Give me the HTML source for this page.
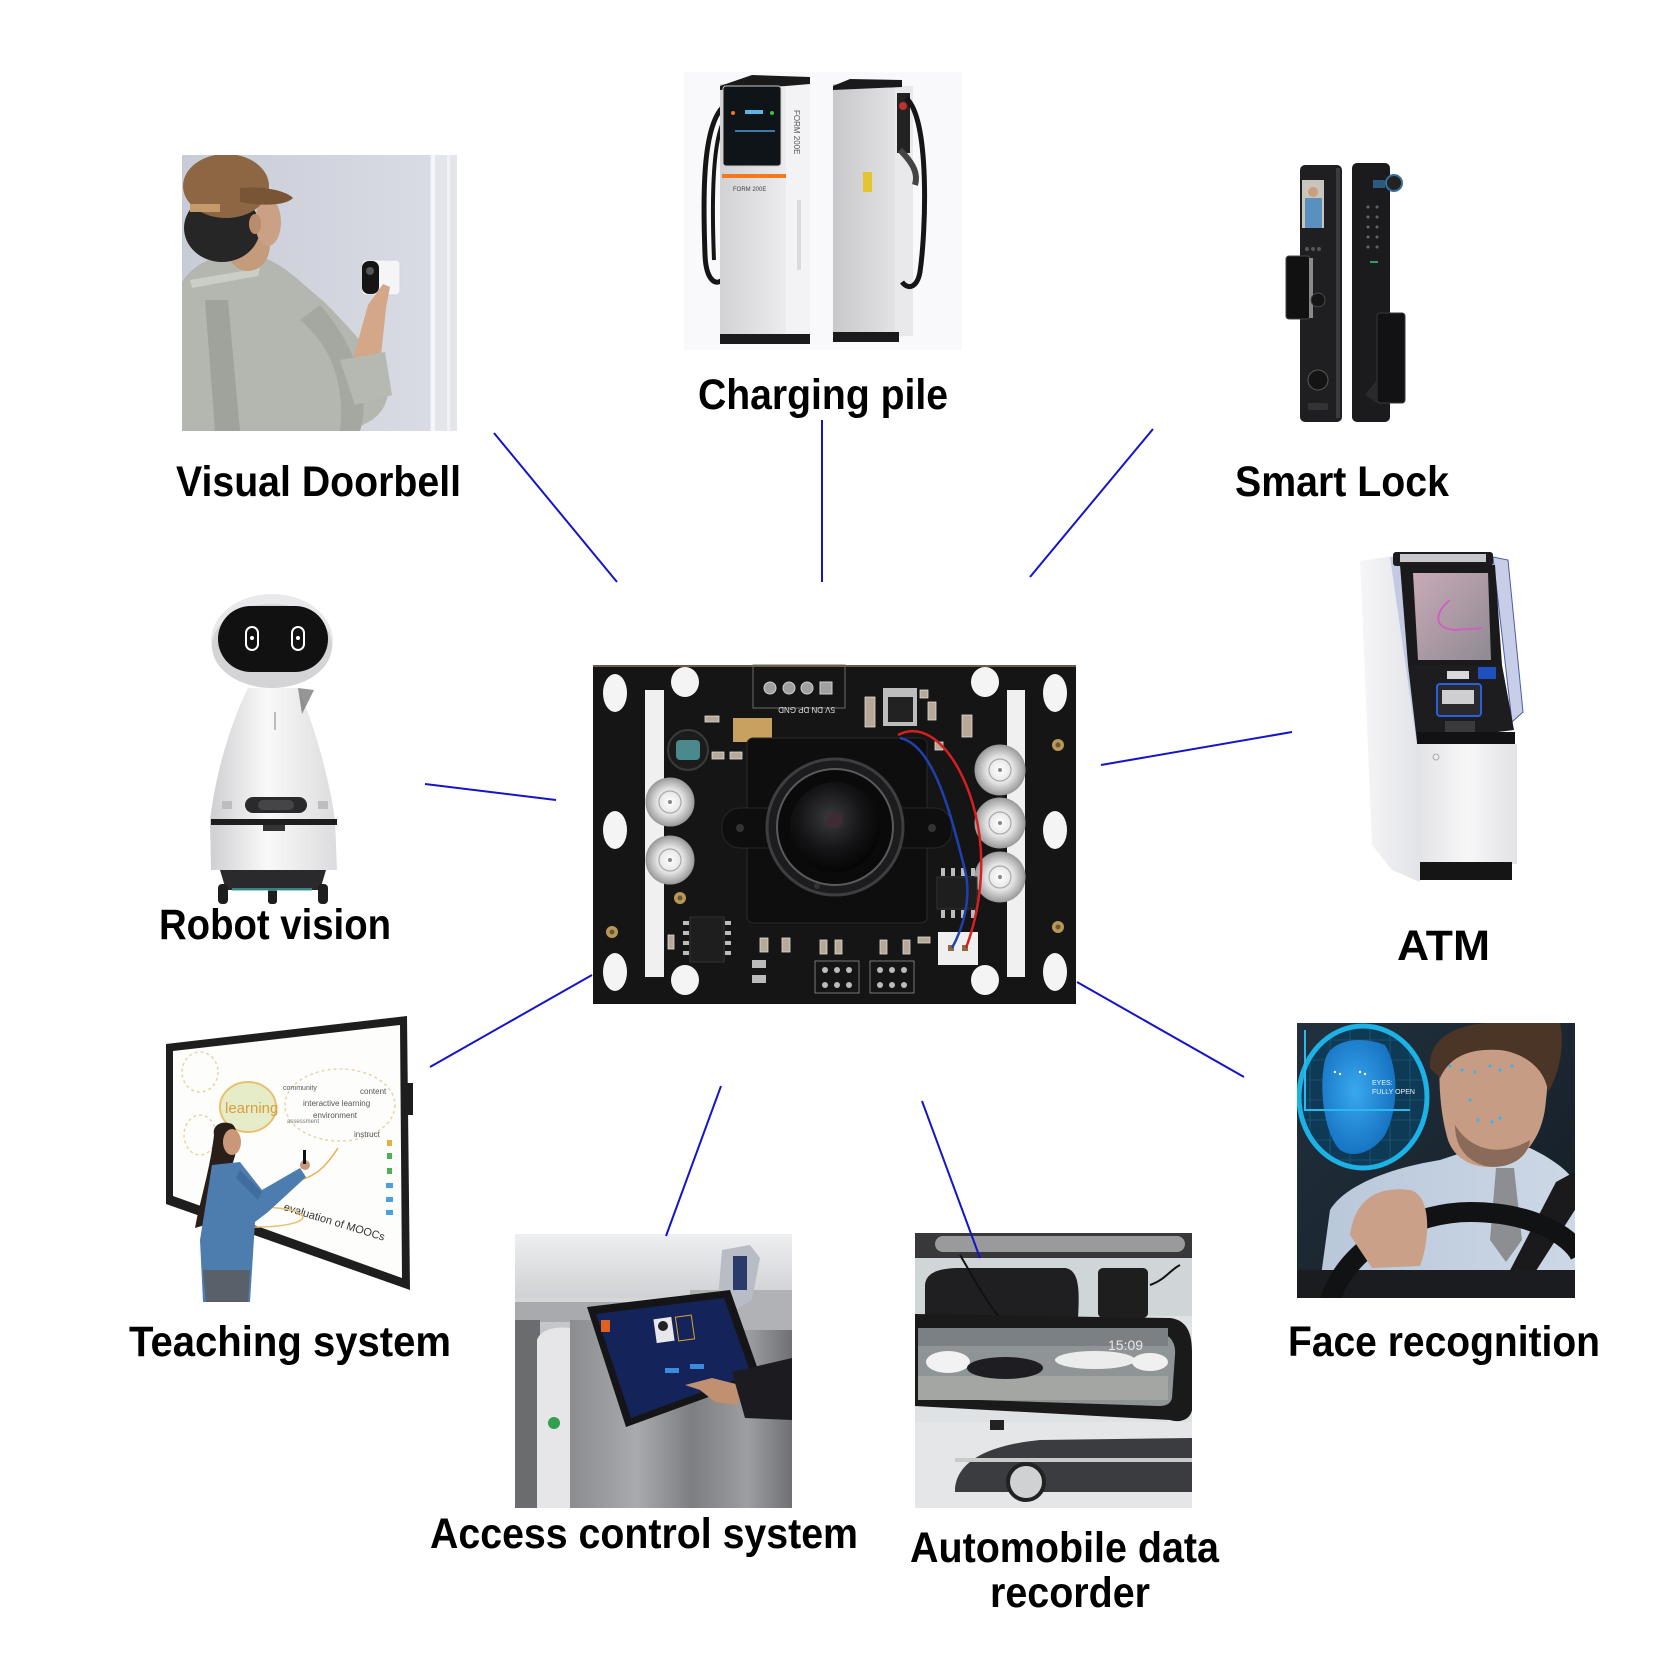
<!DOCTYPE html>
<html><head><meta charset="utf-8">
<style>
html,body{margin:0;padding:0;background:#fff;width:1668px;height:1668px;overflow:hidden}
svg{display:block}
.lbl{font-family:"Liberation Sans",Arial,sans-serif;font-weight:bold;font-size:43px;fill:#000}
.tiny{font-family:"Liberation Sans",Arial,sans-serif}
</style></head><body>
<svg width="1668" height="1668" viewBox="0 0 1668 1668" xmlns="http://www.w3.org/2000/svg">
<defs>
<linearGradient id="wall" x1="0" x2="1" y1="0" y2="0"><stop offset="0" stop-color="#c8ccd6"/><stop offset="1" stop-color="#dadde5"/></linearGradient>
<linearGradient id="pileF" x1="0" x2="1"><stop offset="0" stop-color="#d2d2d4"/><stop offset="1" stop-color="#ececee"/></linearGradient>
<linearGradient id="pileR" x1="0" x2="1"><stop offset="0" stop-color="#c8c8cb"/><stop offset="1" stop-color="#e2e2e4"/></linearGradient>
<linearGradient id="robotBody" x1="0" x2="1"><stop offset="0" stop-color="#cfcfd2"/><stop offset="0.45" stop-color="#f9f9f9"/><stop offset="1" stop-color="#dcdcde"/></linearGradient>
<linearGradient id="atmCab" x1="0" x2="1"><stop offset="0" stop-color="#e4e4e7"/><stop offset="0.5" stop-color="#f7f7f8"/><stop offset="1" stop-color="#e2e2e5"/></linearGradient>
<linearGradient id="atmSide" x1="0" x2="1"><stop offset="0" stop-color="#f6f6f8"/><stop offset="1" stop-color="#e2e3e8"/></linearGradient>
<linearGradient id="atmScr" x1="0" x2="1" y1="0" y2="1"><stop offset="0" stop-color="#c9aab8"/><stop offset="1" stop-color="#8f8a92"/></linearGradient>
<linearGradient id="accBg" x1="0" x2="0" y1="0" y2="1"><stop offset="0" stop-color="#eeeff1"/><stop offset="0.28" stop-color="#c9cbce"/><stop offset="1" stop-color="#86888c"/></linearGradient>
<linearGradient id="steel" x1="0" x2="1"><stop offset="0" stop-color="#8a8c90"/><stop offset="0.3" stop-color="#a8aaae"/><stop offset="0.55" stop-color="#7c7e82"/><stop offset="0.8" stop-color="#9c9ea2"/><stop offset="1" stop-color="#6e7074"/></linearGradient>
<linearGradient id="faceBg" x1="0" x2="1" y1="0" y2="1"><stop offset="0" stop-color="#22313e"/><stop offset="1" stop-color="#141c24"/></linearGradient>
<linearGradient id="shirtB" x1="0" x2="1"><stop offset="0" stop-color="#b9c7da"/><stop offset="1" stop-color="#cdd8e6"/></linearGradient>
<radialGradient id="led" cx="0.5" cy="0.5" r="0.5"><stop offset="0" stop-color="#ffffff"/><stop offset="0.55" stop-color="#e2e2e2"/><stop offset="1" stop-color="#9c9c9c"/></radialGradient>
<radialGradient id="lens" cx="0.45" cy="0.4" r="0.6"><stop offset="0" stop-color="#3a3a3e"/><stop offset="0.6" stop-color="#141416"/><stop offset="1" stop-color="#050505"/></radialGradient>
<radialGradient id="bface" cx="0.45" cy="0.45" r="0.6"><stop offset="0" stop-color="#39a8ee"/><stop offset="1" stop-color="#146fc0"/></radialGradient>
<clipPath id="cDoor"><rect x="182" y="155" width="275" height="276"/></clipPath>
<clipPath id="cAcc"><rect x="515" y="1234" width="277" height="274"/></clipPath>
<clipPath id="cAuto"><rect x="915" y="1233" width="277" height="275"/></clipPath>
<clipPath id="cFace"><rect x="1297" y="1023" width="278" height="275"/></clipPath>
<clipPath id="cCircle"><ellipse cx="1363" cy="1097" rx="63" ry="70"/></clipPath>
</defs>
<rect width="1668" height="1668" fill="#fff"/>

<!-- ============ VISUAL DOORBELL ============ -->
<g clip-path="url(#cDoor)">
<rect x="182" y="155" width="275" height="276" fill="url(#wall)"/>
<rect x="430" y="155" width="27" height="276" fill="#e3e5eb"/>
<rect x="431" y="155" width="4" height="276" fill="#f5f6f9"/>
<rect x="447" y="155" width="3" height="276" fill="#f1f2f6"/>
<path d="M182,282 C195,262 215,254 250,254 C278,258 298,280 322,300 C345,322 364,345 378,362 C392,384 392,405 372,420 L352,431 L182,431 Z" fill="#b4b7af"/>
<path d="M205,300 L215,431 L240,431 L228,300 Z" fill="#a0a39b"/>
<path d="M300,320 C330,345 345,380 340,431 L360,431 C370,400 360,350 320,305 Z" fill="#a5a8a0"/>
<path d="M190,280 L260,268 L258,276 L192,288 Z" fill="#cbcec7"/>
<ellipse cx="248" cy="245" rx="22" ry="26" fill="#c49b7b"/>
<ellipse cx="222" cy="228" rx="38" ry="34" fill="#262626"/>
<ellipse cx="268" cy="222" rx="13" ry="24" fill="#caa184"/>
<ellipse cx="255" cy="224" rx="6" ry="10" fill="#b88c6c"/>
<ellipse cx="226" cy="186" rx="43" ry="32" fill="#8d6743"/>
<path d="M240,188 C262,186 285,190 293,198 C285,206 262,206 240,202 Z" fill="#7a5535"/>
<rect x="190" y="204" width="30" height="8" fill="#c49a6a"/>
<rect x="362" y="260" width="38" height="35" rx="4" fill="#f5f5f7" stroke="#d4d4d8"/>
<rect x="362" y="261" width="17" height="33" rx="7" fill="#151515"/>
<circle cx="370" cy="271" r="4" fill="#555"/>
<path d="M350,370 L368,305 L383,284 L390,287 L386,308 L380,365 Z" fill="#d3a787"/>
<path d="M340,360 L385,352 L392,395 L355,405 Z" fill="#b6b9b1"/>
</g>

<!-- ============ CHARGING PILE ============ -->
<rect x="684" y="72" width="278" height="278" fill="#f9f9fb"/>
<path d="M722,108 C702,130 703,200 705,255 C706,280 716,288 724,278" stroke="#151515" stroke-width="5" fill="none"/>
<path d="M722,125 C712,150 712,210 714,260" stroke="#151515" stroke-width="4" fill="none"/>
<rect x="720" y="84" width="66" height="254" fill="url(#pileF)"/>
<rect x="786" y="80" width="24" height="258" fill="#f3f3f5"/>
<polygon points="720,86 752,75 810,77 810,84 786,86 720,90" fill="#1a1a1a"/>
<rect x="723" y="86" width="58" height="80" rx="3" fill="#0f1418" stroke="#c8c8c8"/>
<circle cx="733" cy="113" r="2" fill="#f07820"/><circle cx="772" cy="113" r="2" fill="#40c040"/>
<rect x="745" y="110" width="18" height="4" fill="#5ab8e8"/>
<rect x="735" y="130" width="40" height="2" fill="#3a7aa8"/>
<rect x="722" y="174" width="64" height="4" fill="#f07820"/>
<text x="733" y="191" class="tiny" font-size="6" fill="#444">FORM 200E</text>
<text x="0" y="0" class="tiny" font-size="8" fill="#555" transform="translate(794,110) rotate(90)">FORM 200E</text>
<rect x="797" y="200" width="4" height="70" fill="#dadadc"/>
<rect x="720" y="334" width="90" height="10" fill="#1a1a1a"/>
<rect x="833" y="84" width="62" height="252" fill="url(#pileR)"/>
<rect x="895" y="86" width="18" height="250" fill="#e9e9eb"/>
<polygon points="833,86 850,79 902,80 902,87 833,90" fill="#1a1a1a"/>
<rect x="833" y="332" width="66" height="10" fill="#1a1a1a"/>
<rect x="897" y="93" width="13" height="60" fill="#222"/>
<circle cx="903" cy="106" r="4" fill="#c03030"/>
<rect x="863" y="172" width="9" height="20" fill="#e4c430"/>
<path d="M906,98 C930,118 926,230 920,272 C917,288 908,290 902,282" stroke="#151515" stroke-width="5" fill="none"/>
<path d="M900,150 C915,165 918,175 915,185" stroke="#444" stroke-width="6" fill="none"/>

<!-- ============ SMART LOCK ============ -->
<rect x="1300" y="165" width="42" height="257" rx="5" fill="#1f1f21"/>
<rect x="1336" y="168" width="4" height="250" fill="#3b3b3e"/>
<rect x="1302" y="180" width="22" height="48" fill="#c9c4bc"/>
<rect x="1305" y="198" width="17" height="30" fill="#5a90c0"/>
<circle cx="1313" cy="192" r="5" fill="#c8a080"/>
<circle cx="1307" cy="249" r="2" fill="#555"/><circle cx="1313" cy="249" r="2" fill="#555"/><circle cx="1319" cy="249" r="2" fill="#555"/>
<rect x="1286" y="256" width="24" height="63" rx="3" fill="#111" stroke="#444"/>
<rect x="1309" y="258" width="4" height="60" fill="#8a8a8c"/>
<circle cx="1318" cy="300" r="7" fill="#151515" stroke="#4a4a4c"/>
<circle cx="1318" cy="380" r="10" fill="#141414" stroke="#5a5a5c"/>
<rect x="1308" y="403" width="20" height="7" rx="2" fill="#333"/>
<rect x="1352" y="163" width="38" height="259" rx="5" fill="#1b1b1d"/>
<circle cx="1394" cy="183" r="8" fill="#222" stroke="#3a6e98" stroke-width="2"/>
<rect x="1373" y="180" width="12" height="8" fill="#2a5a80"/>
<g fill="#666"><circle cx="1368" cy="207" r="1.5"/><circle cx="1377" cy="207" r="1.5"/><circle cx="1368" cy="217" r="1.5"/><circle cx="1377" cy="217" r="1.5"/><circle cx="1368" cy="227" r="1.5"/><circle cx="1377" cy="227" r="1.5"/><circle cx="1368" cy="237" r="1.5"/><circle cx="1377" cy="237" r="1.5"/><circle cx="1368" cy="247" r="1.5"/><circle cx="1377" cy="247" r="1.5"/></g>
<rect x="1370" y="261" width="8" height="2" fill="#30a060"/>
<rect x="1377" y="313" width="28" height="90" rx="3" fill="#121214" stroke="#3a3a3c"/>
<path d="M1365,395 L1377,403 L1377,380 Z" fill="#2a2a2c"/>

<!-- ============ ROBOT ============ -->
<path d="M248,688 L298,688 C312,720 328,770 335,820 L337,870 L211,870 L210,820 C216,770 232,720 248,688 Z" fill="url(#robotBody)"/>
<polygon points="298,688 314,690 302,714" fill="#6a6a6c" opacity="0.7"/>
<rect x="274" y="712" width="2" height="18" fill="#bbb"/>
<ellipse cx="272" cy="641" rx="61" ry="47" fill="#e9e9eb"/>
<ellipse cx="272" cy="646" rx="60" ry="42" fill="#d4d4d6"/>
<rect x="218" y="606" width="110" height="66" rx="33" fill="#111"/>
<rect x="246" y="627" width="12" height="23" rx="6" fill="none" stroke="#fff" stroke-width="2"/>
<circle cx="252" cy="638" r="2" fill="#fff"/>
<rect x="292" y="627" width="12" height="23" rx="6" fill="none" stroke="#fff" stroke-width="2"/>
<circle cx="298" cy="638" r="2" fill="#fff"/>
<rect x="245" y="797" width="62" height="16" rx="8" fill="#2a2a2c"/>
<rect x="258" y="800" width="36" height="10" rx="5" fill="#454547"/>
<rect x="222" y="801" width="10" height="8" fill="#bdbdbf"/>
<rect x="318" y="801" width="10" height="8" fill="#bdbdbf"/>
<rect x="211" y="819" width="126" height="6" fill="#1e1e1e"/>
<rect x="263" y="825" width="22" height="6" fill="#333"/>
<path d="M220,870 L326,870 L320,890 L226,890 Z" fill="#2a2a2c"/>
<rect x="218" y="884" width="10" height="20" rx="4" fill="#1e1e1e"/>
<rect x="268" y="888" width="9" height="16" rx="3" fill="#1e1e1e"/>
<rect x="318" y="884" width="10" height="20" rx="4" fill="#1e1e1e"/>
<rect x="232" y="888" width="80" height="3" fill="#4ac0c0" opacity="0.6"/>

<!-- ============ ATM ============ -->
<polygon points="1360,561 1393,556 1420,745 1420,882 1392,870 1372,845 1366,702" fill="url(#atmSide)"/>
<polygon points="1390,557 1404,557 1420,742 1417,745" fill="#c4cae4"/>
<polygon points="1493,557 1508,560 1523,712 1512,722" fill="#c8cee8" stroke="#4a5ca8" stroke-width="1"/>
<rect x="1393" y="552" width="100" height="14" rx="3" fill="#1c1c1c"/>
<rect x="1400" y="554" width="86" height="8" fill="#c8c8ca"/>
<polygon points="1400,565 1495,565 1502,665 1408,665" fill="#1a1a1c"/>
<polygon points="1413,573 1488,573 1491,660 1418,660" fill="url(#atmScr)"/>
<path d="M1450,600 C1435,612 1432,628 1455,630 L1482,628" stroke="#d060c0" stroke-width="2" fill="none"/>
<polygon points="1408,665 1502,665 1514,730 1417,742" fill="#1d1d1f"/>
<rect x="1447" y="671" width="22" height="8" fill="#d8d8da"/>
<rect x="1478" y="667" width="18" height="12" fill="#2050c0"/>
<rect x="1437" y="684" width="44" height="32" rx="3" fill="#2a2a2c" stroke="#2860e0" stroke-width="2"/>
<rect x="1442" y="690" width="32" height="14" fill="#cfcfd1"/>
<rect x="1445" y="721" width="30" height="12" fill="#3a3a3c"/>
<rect x="1417" y="732" width="98" height="12" fill="#121214"/>
<rect x="1420" y="744" width="97" height="120" fill="url(#atmCab)"/>
<circle cx="1436" cy="757" r="3" fill="none" stroke="#aaa"/>
<rect x="1420" y="862" width="92" height="18" fill="#151515"/>

<!-- ============ TEACHING ============ -->
<polygon points="166,1044 407,1016 410,1290 166,1204" fill="#1e1e1e"/>
<polygon points="173,1051 400,1025 402,1278 173,1196" fill="#fdfdfb"/>
<rect x="407" y="1083" width="6" height="32" fill="#1e1e1e"/>
<g fill="none" stroke="#e6d4b0" stroke-width="1.5" stroke-dasharray="3,3">
<ellipse cx="200" cy="1072" rx="18" ry="20"/>
<ellipse cx="340" cy="1105" rx="55" ry="36"/>
<ellipse cx="200" cy="1135" rx="16" ry="20"/>
</g>
<ellipse cx="248" cy="1107" rx="28" ry="25" fill="#e6ebc8" stroke="#e8c070" stroke-width="2"/>
<text x="225" y="1113" class="tiny" font-size="15" fill="#d4a040">learning</text>
<text x="283" y="1090" class="tiny" font-size="7" fill="#555">community</text>
<text x="360" y="1094" class="tiny" font-size="8" fill="#555">content</text>
<text x="303" y="1106" class="tiny" font-size="8" fill="#555">interactive learning</text>
<text x="313" y="1118" class="tiny" font-size="8" fill="#555">environment</text>
<text x="354" y="1137" class="tiny" font-size="8" fill="#555">instruct</text>
<text x="287" y="1123" class="tiny" font-size="6" fill="#777">assessment</text>
<text x="0" y="0" class="tiny" font-size="11" fill="#333" transform="translate(283,1210) rotate(17)">evaluation of MOOCs</text>
<path d="M300,1180 C320,1175 330,1160 338,1148" stroke="#e8b050" stroke-width="1.5" fill="none"/>
<ellipse cx="258" cy="1217" rx="45" ry="10" fill="none" stroke="#e8c070" stroke-width="1.5"/>
<g><rect x="387" y="1140" width="5" height="6" fill="#e0b040"/><rect x="387" y="1153" width="5" height="6" fill="#50b050"/><rect x="387" y="1168" width="5" height="6" fill="#50b050"/><rect x="386" y="1183" width="7" height="5" fill="#4aa0e0"/><rect x="386" y="1197" width="7" height="5" fill="#4aa0e0"/><rect x="386" y="1210" width="7" height="5" fill="#4aa0e0"/></g>
<path d="M214,1135 C212,1125 222,1120 232,1124 C240,1130 238,1150 232,1165 C225,1185 215,1210 205,1225 L195,1228 C200,1200 210,1170 214,1135 Z" fill="#2a1e18"/>
<ellipse cx="232" cy="1142" rx="9" ry="13" fill="#c89878"/>
<path d="M212,1165 L240,1162 L262,1190 L300,1168 L306,1177 L268,1212 L255,1222 L250,1302 L203,1302 L200,1240 Z" fill="#4d7daf"/>
<path d="M240,1170 L262,1192 L258,1200 L236,1178 Z" fill="#3f6e9e"/>
<path d="M203,1270 L250,1270 L248,1302 L206,1302 Z" fill="#59606a"/>
<circle cx="305" cy="1165" r="5" fill="#c89878"/>
<rect x="303" y="1150" width="3" height="14" fill="#111"/>

<!-- ============ ACCESS CONTROL ============ -->
<g clip-path="url(#cAcc)">
<rect x="515" y="1234" width="277" height="274" fill="url(#accBg)"/>
<rect x="515" y="1300" width="175" height="22" fill="#a8aaae"/>
<rect x="515" y="1298" width="175" height="4" fill="#d4d6d8"/>
<rect x="515" y="1320" width="25" height="188" fill="#6a6c70"/>
<path d="M537,1340 C540,1330 555,1326 570,1328 L572,1508 L537,1508 Z" fill="#e6e6e8"/>
<circle cx="554" cy="1423" r="6" fill="#30a050"/>
<rect x="570" y="1320" width="222" height="188" fill="url(#steel)"/>
<rect x="690" y="1290" width="102" height="40" fill="#b0b2b6"/>
<polygon points="722,1250 750,1245 760,1258 752,1300 735,1310 718,1300" fill="#b8bcc4"/>
<rect x="733" y="1256" width="14" height="34" fill="#2a3a6a"/>
<polygon points="587,1307 730,1290 761,1378 626,1427" fill="#151517"/>
<polygon points="596,1314 724,1298 751,1374 631,1418" fill="#14245a"/>
<rect x="601" y="1320" width="9" height="12" fill="#e06020"/>
<rect x="655" y="1318" width="18" height="24" fill="#e8e8ec" transform="rotate(-8 664 1330)"/>
<circle cx="663" cy="1326" r="5" fill="#222"/>
<rect x="677" y="1316" width="16" height="24" fill="none" stroke="#e0a030" transform="rotate(-8 685 1328)"/>
<rect x="665" y="1368" width="14" height="5" fill="#3a8ae0"/>
<rect x="690" y="1364" width="14" height="5" fill="#3a8ae0"/>
<path d="M685,1385 L712,1378 L740,1385 L738,1405 L715,1402 L700,1390 Z" fill="#c09070"/>
<path d="M732,1372 L792,1358 L792,1420 L745,1418 Z" fill="#1c1c20"/>
</g>

<!-- ============ AUTOMOBILE ============ -->
<g clip-path="url(#cAuto)">
<rect x="915" y="1233" width="277" height="275" fill="#dfe2e4"/>
<rect x="915" y="1233" width="277" height="28" fill="#38383a"/>
<rect x="935" y="1236" width="250" height="16" rx="8" fill="#9a9a9c"/>
<rect x="915" y="1258" width="277" height="58" fill="#d0d5d8"/>
<path d="M925,1318 L925,1285 C926,1272 940,1268 960,1268 L1065,1268 C1078,1270 1080,1285 1078,1318 Z" fill="#1f1f21"/>
<rect x="1098" y="1268" width="50" height="50" rx="5" fill="#1e1e1e"/>
<path d="M960,1255 C975,1280 985,1300 1000,1318" stroke="#111" stroke-width="2" fill="none"/>
<path d="M1150,1285 C1165,1280 1170,1270 1180,1265" stroke="#111" stroke-width="2" fill="none"/>
<path d="M915,1314 L1170,1318 C1188,1320 1192,1335 1192,1352 L1192,1410 C1190,1420 1180,1423 1170,1420 L915,1406 Z" fill="#1a1a1a"/>
<path d="M918,1328 L1160,1333 C1172,1335 1176,1345 1175,1355 L1172,1398 C1170,1405 1165,1406 1158,1406 L918,1398 Z" fill="#8f9496"/>
<rect x="918" y="1328" width="250" height="18" fill="#7b8084"/>
<rect x="918" y="1376" width="250" height="24" fill="#a4a6a4"/>
<ellipse cx="948" cy="1362" rx="22" ry="11" fill="#f2f2f2"/>
<ellipse cx="1005" cy="1368" rx="38" ry="11" fill="#1e1e22"/>
<ellipse cx="1095" cy="1360" rx="40" ry="9" fill="#ececec"/>
<ellipse cx="1150" cy="1362" rx="18" ry="9" fill="#f0f0f0"/>
<text x="1108" y="1350" class="tiny" font-size="14" fill="#e8e8e8">15:09</text>
<rect x="915" y="1422" width="277" height="86" fill="#e4e6e8"/>
<path d="M955,1488 C958,1460 990,1445 1040,1440 L1192,1438 L1192,1492 L955,1492 Z" fill="#3a3c40"/>
<rect x="955" y="1458" width="237" height="4" fill="#c8cacc"/>
<circle cx="1026" cy="1482" r="18" fill="#cfd1d3" stroke="#222" stroke-width="4"/>
<rect x="990" y="1420" width="14" height="10" fill="#222"/>
</g>

<!-- ============ FACE RECOGNITION ============ -->
<g clip-path="url(#cFace)">
<rect x="1297" y="1023" width="278" height="275" fill="url(#faceBg)"/>
<path d="M1318,1298 L1330,1210 C1345,1185 1390,1168 1440,1160 L1470,1150 L1530,1148 C1555,1160 1575,1175 1578,1190 L1578,1298 Z" fill="url(#shirtB)"/>
<path d="M1440,1060 C1445,1040 1480,1030 1520,1035 C1545,1040 1550,1070 1546,1100 C1544,1130 1530,1158 1500,1166 C1475,1170 1455,1160 1448,1140 C1442,1120 1438,1090 1440,1060 Z" fill="#c69c84"/>
<path d="M1455,1125 C1470,1150 1500,1158 1530,1140 C1528,1160 1505,1170 1485,1166 C1465,1160 1455,1145 1455,1125 Z" fill="#8a6a58"/>
<path d="M1430,1068 C1428,1032 1468,1020 1510,1023 L1560,1023 C1566,1050 1556,1080 1548,1092 C1545,1066 1520,1052 1500,1050 C1470,1048 1450,1056 1440,1078 Z" fill="#4a3526"/>
<polygon points="1496,1168 1514,1168 1522,1240 1506,1262 1490,1240" fill="#8c8e92"/>
<polygon points="1556,1182 1578,1170 1578,1205 1525,1288 1506,1278" fill="#1a1a1c"/>
<rect x="1297" y="1270" width="281" height="28" fill="#1a1c20"/>
<path d="M1330,1300 C1350,1240 1420,1212 1470,1212 C1530,1212 1570,1235 1580,1255" stroke="#111214" stroke-width="20" fill="none"/>
<path d="M1350,1235 C1355,1197 1380,1186 1410,1190 C1432,1195 1430,1240 1420,1266 L1372,1268 Z" fill="#caa088"/>
<g fill="#2ab8f0"><circle cx="1450" cy="1066" r="1.5"/><circle cx="1462" cy="1070" r="1.5"/><circle cx="1475" cy="1072" r="1.5"/><circle cx="1490" cy="1066" r="1.5"/><circle cx="1500" cy="1070" r="1.5"/><circle cx="1512" cy="1066" r="1.5"/><circle cx="1470" cy="1100" r="1.5"/><circle cx="1478" cy="1120" r="1.5"/><circle cx="1492" cy="1122" r="1.5"/><circle cx="1500" cy="1118" r="1.5"/></g>
<ellipse cx="1363" cy="1097" rx="64" ry="71" fill="#0f3a56"/>
<g clip-path="url(#cCircle)" stroke="#2a7aa0" stroke-width="0.6" opacity="0.7">
<path d="M1300,1040 H1430 M1300,1060 H1430 M1300,1080 H1430 M1300,1100 H1430 M1300,1120 H1430 M1300,1140 H1430 M1300,1160 H1430 M1310,1025 V1170 M1330,1025 V1170 M1350,1025 V1170 M1370,1025 V1170 M1390,1025 V1170 M1410,1025 V1170"/>
</g>
<path d="M1325,1060 C1330,1040 1360,1035 1385,1045 C1400,1070 1398,1110 1385,1135 C1375,1150 1355,1160 1340,1150 C1325,1135 1318,1090 1325,1060 Z" fill="url(#bface)"/>
<ellipse cx="1363" cy="1097" rx="64" ry="71" fill="none" stroke="#1cb2e6" stroke-width="5"/>
<path d="M1305,1030 V1110 H1410" stroke="#2ab8f0" stroke-width="2" fill="none"/>
<text x="1372" y="1085" class="tiny" font-size="7" fill="#e8f4ff">EYES:</text>
<text x="1372" y="1094" class="tiny" font-size="7" fill="#e8f4ff">FULLY OPEN</text>
<g fill="#fff"><circle cx="1335" cy="1072" r="1.2"/><circle cx="1340" cy="1074" r="1.2"/><circle cx="1360" cy="1072" r="1.2"/><circle cx="1365" cy="1074" r="1.2"/></g>
</g>

<!-- ============ PCB ============ -->
<rect x="593" y="665" width="483" height="339" fill="#151515"/>
<rect x="593" y="665" width="483" height="2" fill="#6b5a4a"/>
<rect x="645" y="690" width="19" height="287" fill="#f0f0f0"/>
<rect x="1007" y="690" width="18" height="287" fill="#f0f0f0"/>
<g fill="#f4f4f4">
<ellipse cx="615" cy="693" rx="12" ry="19"/><ellipse cx="615" cy="830" rx="12" ry="19"/><ellipse cx="615" cy="972" rx="12" ry="19"/>
<ellipse cx="1055" cy="693" rx="12" ry="19"/><ellipse cx="1055" cy="830" rx="12" ry="19"/><ellipse cx="1055" cy="972" rx="12" ry="19"/>
<ellipse cx="685" cy="682" rx="14" ry="15"/><ellipse cx="985" cy="682" rx="14" ry="15"/>
<ellipse cx="685" cy="980" rx="14" ry="15"/><ellipse cx="985" cy="980" rx="14" ry="15"/>
</g>
<g fill="#b89858"><circle cx="1058" cy="745" r="6"/><circle cx="1058" cy="927" r="6"/><circle cx="612" cy="932" r="6"/><circle cx="680" cy="898" r="6"/></g>
<g fill="#6a5630"><circle cx="1058" cy="745" r="2.5"/><circle cx="1058" cy="927" r="2.5"/><circle cx="612" cy="932" r="2.5"/><circle cx="680" cy="898" r="2.5"/></g>
<rect x="753" y="665" width="92" height="43" fill="none" stroke="#6a6a6a"/>
<g fill="#a0a0a0" stroke="#d0d0d0"><circle cx="770" cy="688" r="6"/><circle cx="789" cy="688" r="6"/><circle cx="807" cy="688" r="6"/><rect x="820" y="682" width="12" height="12"/></g>
<text x="0" y="0" class="tiny" font-size="8" fill="#e0e0e0" transform="translate(835,707) rotate(180)">5V DN DP GND</text>
<rect x="733" y="718" width="39" height="24" fill="#c8a060"/>
<rect x="883" y="688" width="34" height="38" fill="#bdbdbd"/>
<rect x="888" y="697" width="25" height="25" fill="#222"/>
<g fill="#b8a898" stroke="#ddd" stroke-width="0.8">
<rect x="865" y="697" width="10" height="30"/><rect x="928" y="702" width="8" height="18"/><rect x="962" y="715" width="10" height="22"/>
<rect x="705" y="716" width="14" height="6"/><rect x="730" y="752" width="12" height="7"/><rect x="712" y="752" width="12" height="7"/>
<rect x="668" y="935" width="6" height="14"/><rect x="760" y="938" width="8" height="14"/><rect x="782" y="938" width="8" height="14"/>
<rect x="820" y="940" width="7" height="14"/><rect x="835" y="940" width="7" height="14"/><rect x="880" y="940" width="7" height="14"/><rect x="903" y="940" width="7" height="14"/>
<rect x="918" y="937" width="12" height="6"/><rect x="935" y="742" width="8" height="8"/><rect x="920" y="690" width="8" height="8"/>
</g>
<rect x="747" y="738" width="180" height="185" rx="6" fill="#0e0e0e" stroke="#2a2a2a"/>
<rect x="722" y="808" width="230" height="40" rx="18" fill="#0e0e0e" stroke="#262626"/>
<circle cx="740" cy="828" r="4" fill="#333"/><circle cx="932" cy="828" r="4" fill="#333"/>
<circle cx="835" cy="827" r="68" fill="#1c1c1e" stroke="#3e3e40" stroke-width="3"/>
<circle cx="835" cy="827" r="58" fill="#0a0a0a" stroke="#5a5a5c" stroke-width="2"/>
<circle cx="835" cy="827" r="45" fill="url(#lens)"/>
<circle cx="835" cy="820" r="8" fill="#3e2c34"/>
<circle cx="817" cy="886" r="3" fill="#333"/>
<circle cx="688" cy="750" r="20" fill="#1c1c1c" stroke="#3a3a3a" stroke-width="2"/>
<rect x="676" y="740" width="24" height="20" rx="4" fill="#4a8a8c"/>
<g stroke="#999" stroke-width="1">
<circle cx="670" cy="802" r="24" fill="url(#led)"/><circle cx="670" cy="860" r="24" fill="url(#led)"/>
<circle cx="1000" cy="770" r="25" fill="url(#led)"/><circle cx="1000" cy="823" r="25" fill="url(#led)"/><circle cx="1000" cy="877" r="25" fill="url(#led)"/>
</g>
<g fill="none" stroke="#aaa" stroke-width="1.2">
<circle cx="670" cy="802" r="11"/><circle cx="670" cy="860" r="11"/><circle cx="1000" cy="770" r="11"/><circle cx="1000" cy="823" r="11"/><circle cx="1000" cy="877" r="11"/>
</g>
<g fill="#888"><circle cx="670" cy="802" r="2"/><circle cx="670" cy="860" r="2"/><circle cx="1000" cy="770" r="2"/><circle cx="1000" cy="823" r="2"/><circle cx="1000" cy="877" r="2"/></g>
<rect x="690" y="917" width="34" height="45" fill="#1e1e1e" stroke="#333"/>
<g fill="#bbb"><rect x="683" y="921" width="6" height="4"/><rect x="683" y="931" width="6" height="4"/><rect x="683" y="941" width="6" height="4"/><rect x="683" y="951" width="6" height="4"/><rect x="725" y="921" width="6" height="4"/><rect x="725" y="931" width="6" height="4"/><rect x="725" y="941" width="6" height="4"/><rect x="725" y="951" width="6" height="4"/></g>
<rect x="937" y="877" width="40" height="32" fill="#1e1e1e" stroke="#333"/>
<g fill="#bbb"><rect x="941" y="868" width="4" height="8"/><rect x="951" y="868" width="4" height="8"/><rect x="961" y="868" width="4" height="8"/><rect x="971" y="868" width="4" height="8"/><rect x="941" y="910" width="4" height="8"/><rect x="951" y="910" width="4" height="8"/><rect x="961" y="910" width="4" height="8"/><rect x="971" y="910" width="4" height="8"/></g>
<rect x="815" y="961" width="44" height="32" fill="none" stroke="#777"/>
<rect x="870" y="961" width="44" height="32" fill="none" stroke="#777"/>
<g fill="#bbb"><circle cx="825" cy="970" r="3"/><circle cx="837" cy="970" r="3"/><circle cx="849" cy="970" r="3"/><circle cx="825" cy="985" r="3"/><circle cx="837" cy="985" r="3"/><circle cx="849" cy="985" r="3"/><circle cx="880" cy="970" r="3"/><circle cx="892" cy="970" r="3"/><circle cx="904" cy="970" r="3"/><circle cx="880" cy="985" r="3"/><circle cx="892" cy="985" r="3"/><circle cx="904" cy="985" r="3"/></g>
<rect x="752" y="960" width="14" height="8" fill="#bbb"/><rect x="752" y="975" width="14" height="8" fill="#bbb"/>
<rect x="938" y="932" width="40" height="33" fill="#efefef"/>
<rect x="948" y="945" width="6" height="6" fill="#8a6a40"/><rect x="962" y="945" width="6" height="6" fill="#8a6a40"/>
<path d="M898,735 C930,718 962,760 975,812 C986,855 982,905 966,948" stroke="#d62020" stroke-width="2.5" fill="none"/>
<path d="M900,738 C935,745 952,820 965,870 C972,900 962,930 952,948" stroke="#2040b0" stroke-width="2.5" fill="none"/>

<!-- ============ CONNECTOR LINES ============ -->
<g stroke="#1414c8" stroke-width="2" fill="none">
<line x1="494" y1="433" x2="617" y2="582"/>
<line x1="822" y1="420" x2="822" y2="582"/>
<line x1="1153" y1="429" x2="1030" y2="577"/>
<line x1="1292" y1="732" x2="1101" y2="765"/>
<line x1="425" y1="784" x2="556" y2="800"/>
<line x1="592" y1="975" x2="430" y2="1067"/>
<line x1="1077" y1="982" x2="1244" y2="1077"/>
<line x1="721" y1="1086" x2="666" y2="1236"/>
<line x1="922" y1="1101" x2="980" y2="1258"/>
</g>

<!-- ============ LABELS ============ -->
<text class="lbl" x="176" y="496" textLength="285" lengthAdjust="spacingAndGlyphs">Visual Doorbell</text>
<text class="lbl" x="698" y="409" textLength="250" lengthAdjust="spacingAndGlyphs">Charging pile</text>
<text class="lbl" x="1235" y="496" textLength="214" lengthAdjust="spacingAndGlyphs">Smart Lock</text>
<text class="lbl" x="159" y="939" textLength="232" lengthAdjust="spacingAndGlyphs">Robot vision</text>
<text class="lbl" x="1397" y="960" textLength="93" lengthAdjust="spacingAndGlyphs">ATM</text>
<text class="lbl" x="129" y="1356" textLength="322" lengthAdjust="spacingAndGlyphs">Teaching system</text>
<text class="lbl" x="1288" y="1356" textLength="312" lengthAdjust="spacingAndGlyphs">Face recognition</text>
<text class="lbl" x="430" y="1548" textLength="428" lengthAdjust="spacingAndGlyphs">Access control system</text>
<text class="lbl" x="910" y="1562" textLength="309" lengthAdjust="spacingAndGlyphs">Automobile data</text>
<text class="lbl" x="990" y="1607" textLength="160" lengthAdjust="spacingAndGlyphs">recorder</text>
</svg>
</body></html>
